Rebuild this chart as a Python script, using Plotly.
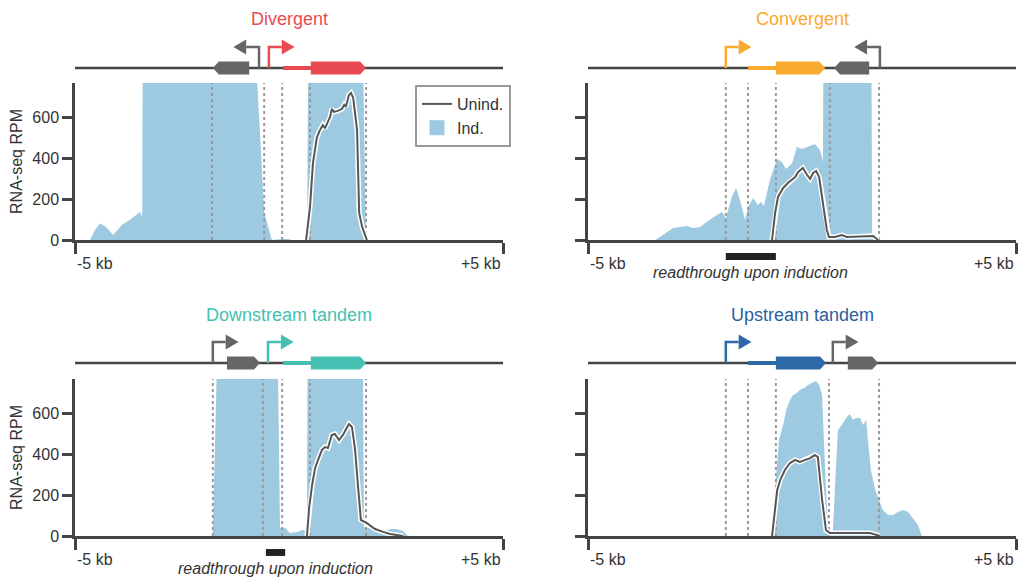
import plotly.graph_objects as go

W, H = 1019, 580

# ---------------- data: x in kb relative to the gene, y in RPM ----------------
# Divergent
div_ind_x = [-5.0, -4.65, -4.53, -4.42, -4.28, -4.11, -4.02, -3.90, -3.71, -3.55, -3.48, -3.43, -3.41,
             -0.77, -0.75, -0.58, -0.40, -0.16, -0.02, 0.07, 0.42, 0.47, 1.68, 1.80, 5.0]
div_ind_y = [0, 0, 50, 80, 65, 24, 45, 75, 100, 125, 137, 112, 1500,
             1500, 800, 137, 0, 5, 5, 0, 0, 1500, 1500, 0, 0]
div_un_x = [0.40, 0.49, 0.56, 0.65, 0.72, 0.79, 0.84, 0.91, 0.96, 1.00, 1.05, 1.14, 1.24, 1.29, 1.33,
            1.40, 1.45, 1.50, 1.59, 1.64, 1.71, 1.82]
div_un_y = [0, 160, 375, 500, 535, 560, 545, 575, 600, 640, 625, 630, 640, 660, 650,
            707, 717, 693, 536, 132, 63, 0]
div_marks = [-1.80, -0.58, -0.16, 0.49, 1.80]

# Convergent
con_ind_x = [-5.0, -3.43, -3.01, -2.69, -2.55, -2.38, -2.10, -1.87, -1.78, -1.64, -1.54, -1.45, -1.33,
             -1.26, -1.14, -1.03, -0.96, -0.89, -0.75, -0.58, -0.47, -0.37, -0.23, -0.12, 0.00,
             0.12, 0.30, 0.42, 0.49, 0.51, 1.61, 1.64, 1.78, 1.82, 5.0]
con_ind_y = [0, 0, 58, 68, 58, 63, 107, 137, 107, 210, 254, 195, 98,
             161, 205, 171, 185, 166, 293, 395, 380, 346, 376, 454, 444,
             454, 468, 439, 385, 1500, 1500, 15, 10, 0, 0]
con_un_x = [-0.70, -0.63, -0.56, -0.44, -0.33, -0.23, -0.16, -0.09, 0.02, 0.12, 0.19, 0.26, 0.33,
            0.40, 0.49, 0.58, 0.63, 0.77, 0.93, 1.05, 1.66, 1.78]
con_un_y = [0, 130, 210, 254, 278, 293, 307, 332, 351, 317, 298, 327, 337,
            307, 180, 49, 15, 15, 24, 15, 20, 0]
con_marks = [-1.78, -1.26, -0.61, 0.65, 1.80]
con_readthrough = [-1.78, -0.61]

# Downstream tandem
dst_ind_x = [-5.0, -1.78, -1.61, -0.30, -0.21, -0.09, 0.02, 0.19, 0.33, 0.42, 0.44, 1.71, 1.75,
             1.89, 2.06, 2.20, 2.36, 2.52, 2.66, 2.78, 5.0]
dst_ind_y = [0, 0, 1500, 1500, 40, 40, 15, 20, 30, 20, 1500, 1500, 44,
             39, 30, 20, 34, 34, 24, 0, 0]
dst_un_x = [0.42, 0.47, 0.54, 0.61, 0.68, 0.77, 0.84, 0.91, 1.00, 1.07, 1.17, 1.26, 1.36, 1.40,
            1.47, 1.54, 1.61, 1.68, 1.82, 2.01, 2.20, 2.36, 2.66]
dst_un_y = [0, 137, 249, 332, 371, 420, 434, 429, 493, 498, 468, 493, 532, 546,
            532, 429, 249, 78, 63, 34, 20, 10, 0]
dst_marks = [-1.78, -0.61, -0.16, 0.49, 1.80]
dst_readthrough = [-0.54, -0.09]

# Upstream tandem
ust_ind_x = [-5.0, -0.70, -0.61, -0.54, -0.44, -0.37, -0.28, -0.21, -0.12, -0.05, 0.05, 0.14, 0.23,
             0.33, 0.40, 0.47, 0.54, 0.61, 0.68, 0.72, 0.79, 0.84, 0.93, 1.03, 1.12, 1.19, 1.26,
             1.36, 1.43, 1.50, 1.54, 1.61, 1.71, 1.80, 1.89, 2.01, 2.13, 2.24, 2.36, 2.48, 2.59,
             2.71, 2.80, 5.0]
ust_ind_y = [0, 0, 273, 468, 541, 615, 663, 688, 698, 712, 722, 737, 746,
             756, 737, 688, 322, 29, 15, 15, 322, 517, 541, 576, 595, 566, 576,
             576, 541, 566, 468, 322, 224, 176, 127, 102, 102, 117, 127, 117, 88,
             54, 0, 0]
ust_un_x = [-0.70, -0.58, -0.51, -0.40, -0.28, -0.16, -0.05, 0.07, 0.19, 0.30, 0.37, 0.47, 0.56,
            0.65, 0.89, 1.59, 1.82]
ust_un_y = [0, 224, 273, 322, 356, 371, 361, 371, 380, 395, 385, 176, 29,
            15, 15, 15, 0]
ust_marks = [-1.78, -1.26, -0.61, 0.63, 1.80]

# gene models (kb)
RED, ORANGE, TEAL, BLUE, GRAY = "#e84a51", "#f9ab30", "#45bfb1", "#2d69a7", "#666666"
div_genes = [dict(utr=None, cds=(-1.78, -0.93), strand="-", color=GRAY),
             dict(utr=(-0.14, 0.51), cds=(0.51, 1.80), strand="+", color=RED)]
div_proms = [(-0.70, "-", GRAY), (-0.47, "+", RED)]
con_genes = [dict(utr=(-1.26, -0.61), cds=(-0.61, 0.54), strand="+", color=ORANGE),
             dict(utr=None, cds=(0.75, 1.57), strand="-", color=GRAY)]
con_proms = [(-1.78, "+", ORANGE), (1.82, "-", GRAY)]
dst_genes = [dict(utr=None, cds=(-1.45, -0.68), strand="+", color=GRAY),
             dict(utr=(-0.14, 0.51), cds=(0.51, 1.80), strand="+", color=TEAL)]
dst_proms = [(-1.78, "+", GRAY), (-0.49, "+", TEAL)]
ust_genes = [dict(utr=(-1.26, -0.61), cds=(-0.61, 0.56), strand="+", color=BLUE),
             dict(utr=None, cds=(1.07, 1.78), strand="+", color=GRAY)]
ust_proms = [(-1.78, "+", BLUE), (0.72, "+", GRAY)]

titles = ["Divergent", "Convergent", "Downstream tandem", "Upstream tandem"]
title_colors = [RED, ORANGE, TEAL, "#2a5f9f"]
y_ticks = [0, 200, 400, 600]
x_ticks = [-5, 5]
x_ticktext = ["-5 kb", "+5 kb"]

panels = [
    dict(ix=div_ind_x, iy=div_ind_y, ux=div_un_x, uy=div_un_y, marks=div_marks,
         genes=div_genes, proms=div_proms, rt=None, col=0, row=0),
    dict(ix=con_ind_x, iy=con_ind_y, ux=con_un_x, uy=con_un_y, marks=con_marks,
         genes=con_genes, proms=con_proms, rt=con_readthrough, col=1, row=0),
    dict(ix=dst_ind_x, iy=dst_ind_y, ux=dst_un_x, uy=dst_un_y, marks=dst_marks,
         genes=dst_genes, proms=dst_proms, rt=dst_readthrough, col=0, row=1),
    dict(ix=ust_ind_x, iy=ust_ind_y, ux=ust_un_x, uy=ust_un_y, marks=ust_marks,
         genes=ust_genes, proms=ust_proms, rt=None, col=1, row=1),
]

# ---------------- style ----------------
IND_COLOR = "#9ecae1"
UN_COLOR = "#555555"
AX_COLOR = "#444444"
TXT = "#333333"
FONT = "Liberation Sans, Arial, sans-serif"
YMAX = 766

x_dom = [[75 / W, 503 / W], [588 / W, 1016 / W]]
main_ydom = [[1 - 240 / H, 1 - 83 / H], [1 - 536 / H, 1 - 379 / H]]
diag_ydom = [[1 - 78 / H, 1 - 28 / H], [1 - 373 / H, 1 - 323 / H]]
title_y = [1 - 19 / H, 1 - 315 / H]

fig = go.Figure()
layout = dict(width=W, height=H, margin=dict(l=0, r=0, t=0, b=0),
              paper_bgcolor="white", plot_bgcolor="white", autosize=False,
              font=dict(family=FONT, color=TXT, size=16), showlegend=True)
shapes, annotations = [], []

LINE_Y = 10
G_LO, G_HI = 3.5, 16.5
U_LO, U_HI = 8, 12
TIP = 0.14
P_TOP = 31
P_ARM = 0.3
P_HEAD = 0.3
P_HALF = 7.5

for i, p in enumerate(panels):
    m = i + 1          # main axis index
    d = i + 5          # diagram axis index
    xs = "" if m == 1 else str(m)
    xm, ym = "x" + xs, "y" + xs
    xd, yd = "x" + str(d), "y" + str(d)
    c, r = p["col"], p["row"]

    # ---- main plot traces ----
    fig.add_trace(go.Scatter(x=p["ix"], y=p["iy"], mode="lines", fill="tozeroy",
                             fillcolor=IND_COLOR, line=dict(width=0, color=IND_COLOR),
                             showlegend=False, xaxis=xm, yaxis=ym, hoverinfo="skip"))
    mx, my = [], []
    for v in p["marks"]:
        mx += [v, v, None]
        my += [0, YMAX, None]
    fig.add_trace(go.Scatter(x=mx, y=my, mode="lines", line=dict(color="#9a9a9a", width=2, dash="dot"),
                             showlegend=False, xaxis=xm, yaxis=ym, hoverinfo="skip"))
    fig.add_trace(go.Scatter(x=p["ux"], y=p["uy"], mode="lines", line=dict(color="white", width=5),
                             showlegend=False, xaxis=xm, yaxis=ym, hoverinfo="skip"))
    fig.add_trace(go.Scatter(x=p["ux"], y=p["uy"], mode="lines", line=dict(color=UN_COLOR, width=2),
                             name="Unind.", showlegend=(i == 0), legendrank=1,
                             xaxis=xm, yaxis=ym, hoverinfo="skip"))
    if i == 0:
        # legend entry for the induced fill (square swatch)
        fig.add_trace(go.Scatter(x=[None], y=[None], mode="markers", name="Ind.",
                                 marker=dict(symbol="square", size=15, color=IND_COLOR),
                                 legendrank=2, xaxis=xm, yaxis=ym, hoverinfo="skip"))

    # ---- main axes ----
    layout["xaxis" + xs] = dict(domain=x_dom[c], range=[-5, 5], anchor=ym, showline=True,
                                linecolor=AX_COLOR, linewidth=2.5, ticks="outside",
                                tickvals=x_ticks, ticklen=11, tickwidth=2.5, tickcolor=AX_COLOR,
                                showticklabels=False, showgrid=False, zeroline=False,
                                fixedrange=True, automargin=False)
    yax = dict(domain=main_ydom[r], range=[0, YMAX], anchor=xm, showline=True,
               linecolor=AX_COLOR, linewidth=2.5, ticks="outside", tickvals=y_ticks,
               ticklen=10, tickwidth=2.5, tickcolor=AX_COLOR, showgrid=False, zeroline=False,
               fixedrange=True, automargin=False, tickfont=dict(size=16, color=TXT))
    if c == 0:
        yax["title"] = dict(text="RNA-seq RPM", font=dict(size=16, color=TXT), standoff=6)
    else:
        yax["showticklabels"] = False
    layout["yaxis" + xs] = yax

    # x tick labels (left/right aligned like the original)
    for v, t, anc in zip(x_ticks, x_ticktext, ["left", "right"]):
        annotations.append(dict(x=v, xref=xm, y=0, yref=ym + " domain", text=t, showarrow=False,
                                xanchor=anc, yanchor="top", yshift=-13,
                                font=dict(size=16, color=TXT)))

    # readthrough region
    if p["rt"] is not None:
        shapes.append(dict(type="rect", xref=xm, yref=ym + " domain", x0=p["rt"][0], x1=p["rt"][1],
                           y0=-0.083, y1=-0.127, fillcolor="#222222", line=dict(width=0)))
        annotations.append(dict(x=(p["rt"][0] + p["rt"][1]) / 2, xref=xm, y=-0.21, yref=ym + " domain",
                                text="<i>readthrough upon induction</i>", showarrow=False,
                                xanchor="center", yanchor="middle", font=dict(size=16, color=TXT)))

    # ---- diagram axes ----
    layout["xaxis" + str(d)] = dict(domain=x_dom[c], range=[-5, 5], anchor=yd, visible=False,
                                    fixedrange=True)
    layout["yaxis" + str(d)] = dict(domain=diag_ydom[r], range=[0, 50], anchor=xd, visible=False,
                                    fixedrange=True)
    fig.add_trace(go.Scatter(x=[-5, 5], y=[LINE_Y, LINE_Y], mode="lines",
                             line=dict(color=AX_COLOR, width=2.5), showlegend=False,
                             xaxis=xd, yaxis=yd, hoverinfo="skip"))
    for g in p["genes"]:
        a, b = g["cds"]
        if g["utr"] is not None:
            shapes.append(dict(type="rect", xref=xd, yref=yd, x0=g["utr"][0], x1=g["utr"][1],
                               y0=U_LO, y1=U_HI, fillcolor=g["color"], line=dict(width=0)))
        mid = (G_LO + G_HI) / 2
        if g["strand"] == "+":
            path = (f"M{a},{G_LO} L{b - TIP},{G_LO} L{b},{mid} L{b - TIP},{G_HI} L{a},{G_HI} Z")
        else:
            path = (f"M{b},{G_LO} L{a + TIP},{G_LO} L{a},{mid} L{a + TIP},{G_HI} L{b},{G_HI} Z")
        shapes.append(dict(type="path", xref=xd, yref=yd, path=path, fillcolor=g["color"],
                           line=dict(width=0)))
    for pos, strand, col in p["proms"]:
        s = 1 if strand == "+" else -1
        arm_end = pos + s * P_ARM
        shapes.append(dict(type="path", xref=xd, yref=yd,
                           path=f"M{pos},{LINE_Y} L{pos},{P_TOP} L{arm_end},{P_TOP}",
                           line=dict(color=col, width=2.5)))
        shapes.append(dict(type="path", xref=xd, yref=yd,
                           path=(f"M{arm_end},{P_TOP - P_HALF} L{arm_end + s * P_HEAD},{P_TOP} "
                                 f"L{arm_end},{P_TOP + P_HALF} Z"),
                           fillcolor=col, line=dict(width=0)))

    annotations.append(dict(x=0.5, xref=xd + " domain", y=title_y[r], yref="paper", text=titles[i],
                            showarrow=False, xanchor="center", yanchor="middle",
                            font=dict(size=18, color=title_colors[i])))

layout["shapes"] = shapes
layout["annotations"] = annotations
layout["legend"] = dict(x=415 / W, y=1 - 85 / H, xanchor="left", yanchor="top",
                        bordercolor="#999999", borderwidth=2, bgcolor="white",
                        font=dict(size=16, color=TXT), itemwidth=30, tracegroupgap=0)
fig.update_layout(**layout)
fig.write_html("out.html")
